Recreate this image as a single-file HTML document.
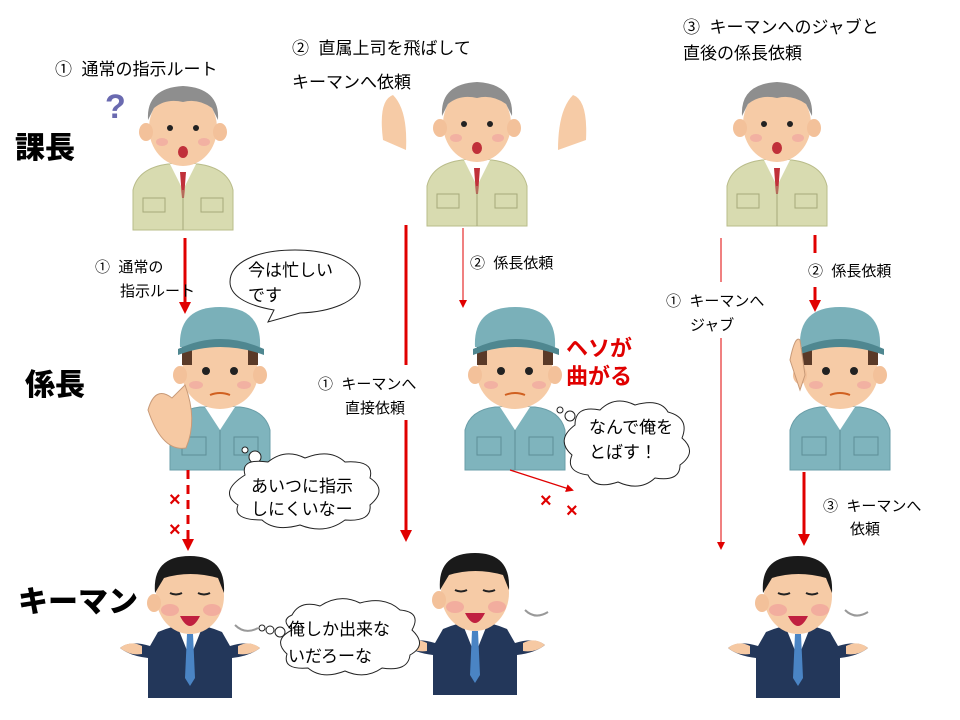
<!DOCTYPE html>
<html><head><meta charset="utf-8"><style>
html,body{margin:0;padding:0;background:#fff}
svg{display:block}
text{font-family:"Liberation Sans","Noto Sans CJK JP",sans-serif;fill:#000;white-space:pre}
.t{font-size:17px}
.s{font-size:15px}
.b{font-size:30px;font-weight:900}
.r{fill:#e00000;font-size:22px;font-weight:bold}
</style></head><body>
<svg width="960" height="720" viewBox="0 0 960 720" xmlns="http://www.w3.org/2000/svg" xml:space="preserve">
<defs>
<marker id="ah" markerWidth="4" markerHeight="4" refX="2" refY="2" orient="auto" markerUnits="strokeWidth"><path d="M0,0 L4,2 L0,4 z" fill="#e00000"/></marker>
<marker id="ah2" markerWidth="8" markerHeight="8" refX="6" refY="4" orient="auto" markerUnits="userSpaceOnUse"><path d="M0,0 L8,4 L0,8 z" fill="#e00000"/></marker>
<g id="boss">
  <path d="M5,150 L5,110 Q10,88 40,84 L70,84 Q100,88 105,110 L105,150 Z" fill="#d8dbb0" stroke="#b9bc8a"/>
  <path d="M42,84 L55,110 L68,84" fill="#fff"/>
  <path d="M52,92 L58,92 L56,118 L54,118 Z" fill="#c0303a"/>
  <rect x="15" y="118" width="22" height="14" fill="none" stroke="#a6a97a"/>
  <rect x="73" y="118" width="22" height="14" fill="none" stroke="#a6a97a"/>
  <line x1="55" y1="110" x2="55" y2="150" stroke="#a6a97a"/>
  <ellipse cx="55" cy="48" rx="34" ry="38" fill="#f6cba6"/>
  <ellipse cx="18" cy="52" rx="7" ry="9" fill="#f3c19a"/>
  <ellipse cx="92" cy="52" rx="7" ry="9" fill="#f3c19a"/>
  <path d="M20,40 Q18,8 55,6 Q92,8 90,40 L84,28 Q70,18 55,22 Q38,18 26,28 Z" fill="#8e8e8e"/>
  <circle cx="42" cy="48" r="3" fill="#222"/><circle cx="68" cy="48" r="3" fill="#222"/>
  <ellipse cx="34" cy="62" rx="6" ry="4" fill="#f0a0a0" opacity=".6"/><ellipse cx="76" cy="62" rx="6" ry="4" fill="#f0a0a0" opacity=".6"/>
  <ellipse cx="55" cy="72" rx="5" ry="6" fill="#c0303a"/>
</g>
<g id="worker">
  <path d="M10,165 L10,125 Q15,105 40,102 L80,102 Q105,105 110,125 L110,165 Z" fill="#7fb4bd" stroke="#6a9ea8"/>
  <path d="M45,102 L60,125 L75,102" fill="#fff"/>
  <rect x="22" y="132" width="24" height="18" fill="none" stroke="#5e8e96"/>
  <rect x="74" y="132" width="24" height="18" fill="none" stroke="#5e8e96"/>
  <line x1="60" y1="125" x2="60" y2="165" stroke="#5e8e96"/>
  <ellipse cx="60" cy="68" rx="38" ry="36" fill="#f6cba6"/>
  <ellipse cx="20" cy="70" rx="7" ry="9" fill="#f3c19a"/>
  <ellipse cx="100" cy="70" rx="7" ry="9" fill="#f3c19a"/>
  <rect x="22" y="38" width="10" height="22" fill="#5a3a28"/><rect x="88" y="38" width="10" height="22" fill="#5a3a28"/>
  <path d="M20,42 Q18,2 60,2 Q102,2 100,42 Z" fill="#7ab0b9"/>
  <path d="M18,44 Q60,24 104,44 L104,50 Q60,34 18,50 Z" fill="#4f8790"/>
  <circle cx="46" cy="66" r="4" fill="#222"/><circle cx="74" cy="66" r="4" fill="#222"/>
  <ellipse cx="36" cy="80" rx="7" ry="4" fill="#f0a0a0" opacity=".6"/><ellipse cx="84" cy="80" rx="7" ry="4" fill="#f0a0a0" opacity=".6"/>
  <path d="M50,90 Q60,86 70,90" stroke="#d06020" stroke-width="2" fill="none"/>
</g>
<g id="key">
  <path d="M0,100 Q10,92 30,98 L38,84 Q70,70 102,84 L110,98 Q130,92 140,100 Q130,108 112,110 L112,150 L28,150 L28,110 Q10,108 0,100 Z" fill="#23375a"/>
  <path d="M0,100 Q10,92 22,98 L22,106 Q10,108 0,100 Z" fill="#f6c9a3"/>
  <path d="M140,100 Q130,92 118,98 L118,106 Q130,108 140,100 Z" fill="#f6c9a3"/>
  <path d="M58,80 L70,110 L82,80 Z" fill="#fff"/>
  <path d="M67,86 L73,86 L75,130 L70,138 L65,130 Z" fill="#4a84c4"/>
  <ellipse cx="70" cy="48" rx="34" ry="38" fill="#f6cba6"/>
  <ellipse cx="34" cy="55" rx="7" ry="9" fill="#f3c19a"/>
  <path d="M35,45 Q32,8 70,8 Q106,8 104,45 L98,30 Q70,22 44,30 Z" fill="#1a1a1a"/>
  <ellipse cx="50" cy="62" rx="9" ry="6" fill="#f09a9a" opacity=".6"/><ellipse cx="92" cy="62" rx="9" ry="6" fill="#f09a9a" opacity=".6"/>
  <path d="M50,45 Q56,48 62,45 M78,45 Q84,48 90,45" stroke="#222" stroke-width="2" fill="none"/>
  <path d="M60,68 Q70,88 80,68 Z" fill="#c02040"/>
</g>
</defs>

<text class="t" x="55" y="75">①  通常の指示ルート</text>
<text class="t" x="292" y="54">②  直属上司を飛ばして</text>
<text class="t" x="292" y="88">キーマンへ依頼</text>
<text class="t" x="683" y="33">③  キーマンへのジャブと</text>
<text class="t" x="683" y="59">直後の係長依頼</text>

<text class="b" x="15" y="158">課長</text>
<text class="b" x="25" y="395">係長</text>
<text class="b" x="18" y="612">キーマン</text>

<use href="#boss" x="128" y="80"/>
<text x="105" y="118" style="font-size:34px;font-weight:bold;fill:#6a6ab0">?</text>
<use href="#boss" x="422" y="76"/>
<path d="M395,140 Q390,100 405,95 Q420,110 418,150 Z M598,140 Q600,100 585,95 Q570,110 570,150 Z" fill="#f6cba6" transform="translate(-12,0)"/>
<use href="#boss" x="722" y="76"/>

<use href="#worker" x="160" y="305"/>
<path d="M148,410 Q155,385 172,398 L185,385 Q198,420 186,448 Q162,452 148,410 Z" fill="#f6c9a3" stroke="#c89a78"/>
<use href="#worker" x="455" y="305"/>
<use href="#worker" x="780" y="305"/>
<path d="M790,360 Q795,335 800,340 L805,375 L800,390 Z" fill="#f6c9a3" stroke="#c89a78"/>

<use href="#key" x="120" y="548"/>
<use href="#key" x="405" y="545"/>
<use href="#key" x="728" y="548"/>
<path d="M235,625 Q245,635 258,628 M525,610 Q535,620 548,612 M845,610 Q855,620 868,612" stroke="#999" stroke-width="2" fill="none"/>

<line x1="185" y1="238" x2="185" y2="308" stroke="#e00000" stroke-width="3" marker-end="url(#ah)"/>
<text class="s" x="95" y="272">①  通常の</text>
<text class="s" x="120" y="296">指示ルート</text>
<line x1="188" y1="470" x2="188" y2="545" stroke="#e00000" stroke-width="3" stroke-dasharray="9,6" marker-end="url(#ah)"/>
<text x="169" y="506" style="fill:#e00000;font-size:20px;font-weight:bold">×</text>
<text x="169" y="536" style="fill:#e00000;font-size:20px;font-weight:bold">×</text>

<line x1="406" y1="225" x2="406" y2="365" stroke="#e00000" stroke-width="3"/>
<line x1="406" y1="420" x2="406" y2="536" stroke="#e00000" stroke-width="3" marker-end="url(#ah)"/>
<text class="s" x="318" y="389">①  キーマンへ</text>
<text class="s" x="345" y="413">直接依頼</text>
<line x1="463" y1="228" x2="463" y2="306" stroke="#e00000" stroke-width="1" marker-end="url(#ah2)"/>
<text class="s" x="470" y="268">②  係長依頼</text>
<line x1="510" y1="470" x2="572" y2="490" stroke="#e00000" stroke-width="1.2" marker-end="url(#ah2)"/>
<text x="540" y="507" style="fill:#e00000;font-size:20px;font-weight:bold">×</text>
<text x="566" y="517" style="fill:#e00000;font-size:20px;font-weight:bold">×</text>
<text class="r" x="566" y="356">ヘソが</text>
<text class="r" x="566" y="384">曲がる</text>

<line x1="721" y1="238" x2="721" y2="282" stroke="#e00000" stroke-width="1"/>
<line x1="721" y1="338" x2="721" y2="548" stroke="#e00000" stroke-width="1" marker-end="url(#ah2)"/>
<text class="s" x="666" y="306">①  キーマンへ</text>
<text class="s" x="690" y="330">ジャブ</text>
<line x1="815" y1="235" x2="815" y2="253" stroke="#e00000" stroke-width="3"/>
<line x1="815" y1="287" x2="815" y2="306" stroke="#e00000" stroke-width="3" marker-end="url(#ah)"/>
<text class="s" x="808" y="276">②  係長依頼</text>
<line x1="804" y1="472" x2="804" y2="540" stroke="#e00000" stroke-width="3" marker-end="url(#ah)"/>
<text class="s" x="823" y="511">③  キーマンへ</text>
<text class="s" x="850" y="534">依頼</text>

<path d="M295,250 C340,250 362,268 360,285 C358,302 330,312 300,313 L268,322 L274,310 C245,305 230,295 230,282 C230,263 255,250 295,250 Z" fill="#fff" stroke="#222"/>
<text class="t" x="248" y="276">今は忙しい</text>
<text class="t" x="248" y="301">です</text>

<g fill="#fff" stroke="#222">
<circle cx="245" cy="450" r="3"/><circle cx="255" cy="457" r="6"/>
<path d="M245,475 Q240,458 268,462 Q285,448 305,458 Q330,448 345,462 Q375,460 370,478 Q388,490 370,505 Q372,522 345,520 Q325,535 300,525 Q275,532 262,520 Q232,520 238,505 Q218,492 245,475 Z"/>
<circle cx="560" cy="410" r="3"/><circle cx="570" cy="416" r="5"/>
<path d="M575,425 Q575,405 600,410 Q615,395 635,405 Q660,398 668,412 Q690,418 682,438 Q698,452 680,465 Q680,482 655,478 Q640,492 618,482 Q595,490 588,475 Q565,472 572,455 Q555,440 575,425 Z"/>
<circle cx="262" cy="628" r="3"/><circle cx="270" cy="630" r="4"/><circle cx="280" cy="632" r="5"/>
<path d="M292,615 Q300,600 320,606 Q340,593 360,603 Q385,596 400,610 Q422,612 412,630 Q428,645 410,655 Q408,672 382,668 Q365,680 345,671 Q322,680 308,668 Q282,670 287,654 Q272,640 292,630 Q280,620 292,615 Z"/>
</g>
<text class="t" x="251" y="492">あいつに指示</text>
<text class="t" x="251" y="515">しにくいなー</text>
<text class="t" x="589" y="433">なんで俺を</text>
<text class="t" x="589" y="458">とばす！</text>
<text class="t" x="288" y="635">俺しか出来な</text>
<text class="t" x="288" y="662">いだろーな</text>
</svg>
</body></html>
